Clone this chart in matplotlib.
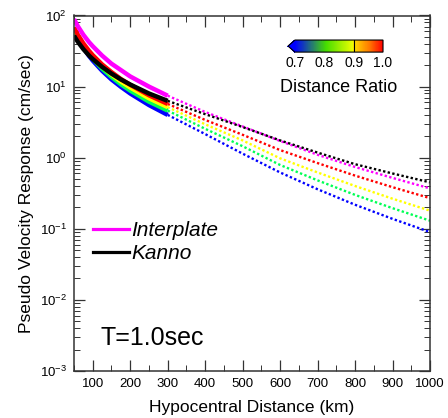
import numpy as np
import matplotlib
matplotlib.use("Agg")
import matplotlib.pyplot as plt
from matplotlib.colors import LinearSegmentedColormap, Normalize
from matplotlib.lines import Line2D
import matplotlib.colorbar as mcolorbar

plt.rcParams['font.family'] = ['Liberation Sans', 'DejaVu Sans']
plt.rcParams['mathtext.default'] = 'regular'

# distances (km): solid part up to 300 km, dotted beyond
dist_near = [50, 60, 75, 90, 100, 125, 150, 175, 200, 250, 300]
dist_far = [300, 400, 500, 600, 700, 800, 900, 1000]

# pseudo velocity response (cm/sec)
interplate_near = [89, 71, 53.5, 42.3, 37, 27.3, 21, 17.1, 13.9, 10.0, 7.45]
interplate_far = [7.45, 4.4, 2.75, 1.72, 1.1, 0.74, 0.52, 0.37]
kanno_near = [52, 42.8, 33.6, 27.4, 24.4, 18.9, 15.2, 12.6, 10.7, 8.0, 6.3]
kanno_far = [6.3, 4.1, 2.7, 1.75, 1.18, 0.81, 0.6, 0.45]

ratio_labels = ['1.0', '0.9', '0.8', '0.7']
ratio_colors = ['#ff0000', '#ffff00', '#00ff55', '#0000ff']
ratio_near = [
    [68, 54.0, 40.5, 31.9, 27.7, 20.5, 16.0, 12.8, 10.6, 7.55, 5.7],
    [66, 51.9, 38.8, 30.2, 26.2, 19.2, 14.8, 11.8, 9.7, 6.85, 5.15],
    [64, 50.0, 37.0, 28.6, 24.7, 17.9, 13.7, 10.8, 8.8, 6.15, 4.6],
    [62, 48.1, 35.2, 27.0, 23.2, 16.7, 12.6, 9.94, 8.0, 5.5, 4.0],
]
ratio_far = [
    [5.7, 3.4, 2.1, 1.28, 0.84, 0.56, 0.385, 0.27],
    [5.15, 2.95, 1.75, 0.98, 0.62, 0.40, 0.265, 0.18],
    [4.6, 2.55, 1.45, 0.79, 0.48, 0.30, 0.195, 0.13],
    [4.0, 2.15, 1.14, 0.62, 0.36, 0.218, 0.138, 0.09],
]

fig = plt.figure(figsize=(4.48, 4.18), dpi=100)
ax = fig.add_axes([74 / 448, 1 - 371 / 418, 356 / 448, 355.5 / 418])

solid_lw = 3.2
dot_style = dict(lw=1.7, linestyle=(0, (1, 1)))

for i in range(len(ratio_labels) - 1, -1, -1):
    c = ratio_colors[i]
    ax.plot(dist_near, ratio_near[i], color=c, lw=solid_lw, solid_capstyle='butt')
    ax.plot(dist_far, ratio_far[i], color=c, **dot_style)

ax.plot(dist_near, kanno_near, color='black', lw=solid_lw, solid_capstyle='butt')
ax.plot(dist_near, interplate_near, color='#ff00ff', lw=solid_lw, solid_capstyle='butt')
ax.plot(dist_far, interplate_far, color='#ff00ff', **dot_style)
ax.plot(dist_far, kanno_far, color='black', **dot_style)

ax.set_yscale('log')
ax.set_xlim(50, 1000)
ax.set_ylim(1e-3, 1e2)
ax.set_xticks(np.arange(100, 1001, 100))
ax.set_xticks(np.arange(50, 1001, 50), minor=True)
ax.tick_params(which='both', direction='in', top=True, right=True,
               labelsize=9.5, color='#333333', pad=5)
ax.tick_params(which='major', length=8, width=0.9)
ax.tick_params(which='minor', length=4, width=0.7)
for s in ax.spines.values():
    s.set_color('#333333')
    s.set_linewidth(1.1)

ax.set_xlabel('Hypocentral Distance (km)', fontsize=12.5, labelpad=7)
ax.set_ylabel('Pseudo Velocity Response (cm/sec)', fontsize=12.5, labelpad=4)

ax.text(0.22, 0.093, 'T=1.0sec', transform=ax.transAxes, fontsize=18,
        ha='center', va='center')

handles = [Line2D([], [], color='#ff00ff', lw=2.3),
           Line2D([], [], color='black', lw=2.3)]
ax.legend(handles, ['Interplate', 'Kanno'], loc='upper left',
          bbox_to_anchor=(0.053, 0.422), frameon=False, borderpad=0,
          borderaxespad=0, handlelength=1.75, handletextpad=0.1,
          labelspacing=0.2, prop={'size': 15, 'style': 'italic'})

# colorbar
cmap = LinearSegmentedColormap.from_list('ratio', [
    (0.0, '#0000ff'), (0.35, '#44dd00'), (0.66, '#eeff00'),
    (0.67, '#ffdd00'), (0.85, '#ff7700'), (1.0, '#ff0000')])
cax = ax.inset_axes([0.601, 0.897, 0.267, 0.034])
cb = mcolorbar.ColorbarBase(cax, cmap=cmap, norm=Normalize(0.7, 1.0),
                            orientation='horizontal', extend='min',
                            extendfrac=0.08)
cb.set_ticks([0.7, 0.8, 0.9, 1.0])
cb.ax.tick_params(length=0, labelsize=10, pad=3)
cb.outline.set_linewidth(0.8)
cax.axvline(0.9, color='black', lw=0.8)
cax.text(0.5, -2.9, 'Distance Ratio', transform=cax.transAxes,
         fontsize=13, ha='center', va='center')

fig.savefig('out.png', dpi=100)
